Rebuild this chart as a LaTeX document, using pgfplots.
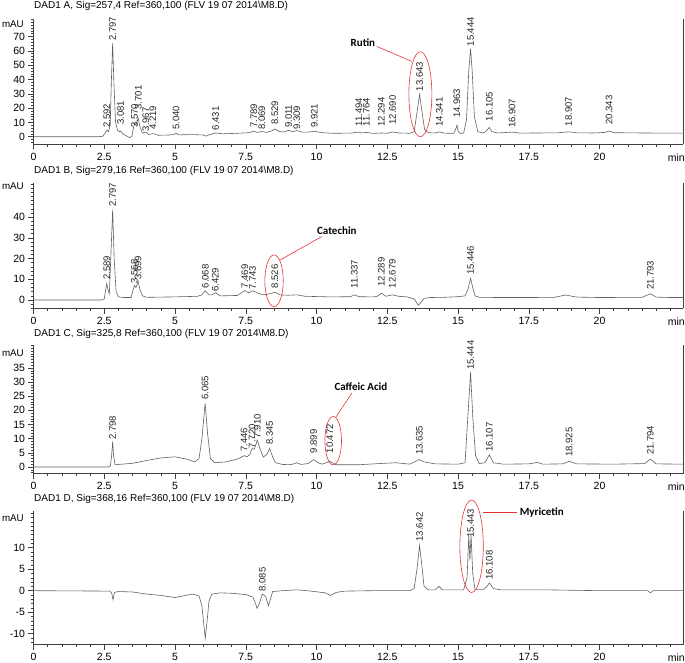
\documentclass[border=0pt]{standalone}
\usepackage{fontspec}
\setmainfont{Liberation Sans}
\newfontfamily\calfont{Carlito}
\usepackage{pgfplots}
\pgfplotsset{compat=1.18}
\definecolor{annot}{rgb}{0.9,0.2,0.22}
\tikzset{
  ann/.style={annot, line width=0.6pt},
  annlabel/.style={font={\calfont\bfseries\fontsize{11}{13}\selectfont}},
  maulabel/.style={anchor=east, inner sep=0pt, font=\fontsize{9.8}{11}\selectfont},
}
\pgfplotsset{
  chrom/.style={
    scale only axis, width=649.5pt,
    xmin=0, xmax=22.95,
    axis x line*=bottom, axis y line*=left,
    axis line style={black!75, line width=0.6pt},
    tick align=outside,
    major tick length=5pt, minor tick length=2.5pt,
    every tick/.style={black!75, line width=0.5pt},
    xtick={0,2.5,5,7.5,10,12.5,15,17.5,20},
    xticklabels={0,2.5,5,7.5,10,12.5,15,17.5,20},
    minor xtick={0,0.5,...,22.5},
    ticklabel style={font=\fontsize{10.5}{12}\selectfont},
    /pgf/number format/assume math mode=true,
    clip=false,
  },
  trace/.style={black!62, line width=0.6pt, mark=none},
  plabels/.style={draw=none, mark=none, nodes near coords, point meta=explicit symbolic,
    nodes near coords style={rotate=90, anchor=west, inner sep=0pt, black!85, font=\fontsize{9.5}{11}\selectfont}},
}
\newcommand{\minlabel}{\node[anchor=north east, inner sep=0pt, font=\fontsize{10.5}{12}\selectfont] at (rel axis cs:1,0) [xshift=2pt, yshift=-8.7pt] {min};
  \draw[black!75, line width=0.6pt] (rel axis cs:1,0) -- (rel axis cs:1,1);}
\begin{document}
\begin{tikzpicture}
\useasboundingbox (0pt,0pt) rectangle (685pt,662pt);
% ---------------- Panel A
\begin{axis}[chrom, at={(33.5pt,517.5pt)}, anchor=south west, height=125.5pt,
  ymin=-5.45, ymax=82.3, ytick={0,10,...,70}, minor ytick={-4,-2,...,82}]
\addplot[trace] coordinates {(0,0) (2.3,0) (2.45,0.3) (2.53,2.5) (2.592,4.5) (2.65,3.5) (2.71,8) (2.75,38) (2.797,65.5) (2.84,38) (2.9,10) (2.97,4.5) (3.03,3.5) (3.081,4) (3.15,2) (3.3,0.4) (3.4,-0.7) (3.48,0.5) (3.53,6) (3.57,9.5) (3.62,8) (3.70,13) (3.76,7) (3.85,2.5) (3.967,3.2) (4.07,1.5) (4.219,2.2) (4.4,1) (4.8,1.2) (4.95,1.5) (5.04,2.3) (5.15,1.3) (5.6,1.5) (6.0,1.2) (6.1,0.4) (6.2,1.3) (6.431,2.6) (6.7,2) (7.2,2.4) (7.6,2.8) (7.789,3.8) (7.9,3) (8.069,3.6) (8.25,3) (8.4,4) (8.529,5.3) (8.7,3.6) (8.85,3.3) (9.011,4.5) (9.15,3.5) (9.309,4.3) (9.5,3.2) (9.7,3.2) (9.921,3.8) (10.2,2.8) (10.6,2.4) (11.2,2.5) (11.494,3.2) (11.6,2.6) (11.764,3) (12.0,2.3) (12.294,2.6) (12.5,2.4) (12.69,3.3) (12.9,2.6) (13.3,2.4) (13.45,3.5) (13.55,17) (13.643,29.5) (13.73,17) (13.82,5) (13.95,2.8) (14.2,2.6) (14.341,3.4) (14.5,2.5) (14.85,2.3) (14.93,6) (14.963,8) (15.0,4) (15.08,2.3) (15.2,2.5) (15.3,12) (15.38,46) (15.444,61.5) (15.5,46) (15.58,14) (15.7,3.5) (15.9,2.5) (16.0,4) (16.105,6.5) (16.2,3.5) (16.4,2.6) (16.907,3.2) (17.2,2.5) (17.8,2.6) (18.5,2.7) (18.907,3.4) (19.2,2.7) (19.8,2.6) (20.2,3) (20.343,4) (20.5,2.8) (21.5,2.6) (22.3,2.5) (22.95,2.5)};
\addplot[plabels] table[meta=lab] {
x y lab
2.592 6 2.592
2.797 67 2.797
3.081 8.4 3.081
3.570 6 3.570
3.701 18.9 3.701
3.967 3.7 3.967
4.219 4.9 4.219
5.040 4.9 5.040
6.431 4.4 6.431
7.789 6 7.789
8.069 4.9 8.069
8.529 8.4 8.529
9.011 6 9.011
9.309 4.9 9.309
9.921 6 9.921
11.494 7.2 11.494
11.764 7 11.764
12.294 7 12.294
12.690 8.4 12.690
13.643 31.7 13.643
14.341 7 14.341
14.963 13 14.963
15.444 63.1 15.444
16.105 10.7 16.105
16.907 6 16.907
18.907 7.2 18.907
20.343 8.4 20.343
};
\draw[ann] (axis cs:13.67,29.7) ellipse [x radius=11.5pt, y radius=42.5pt];
\draw[ann] (axis cs:12.13,63.1) -- (axis cs:13.36,52.7);
\node[annlabel] at (axis cs:11.64,65.9) {Rutin};
\node[maulabel] at (rel axis cs:0,1) [xshift=-9.5pt, yshift=-5pt] {mAU};
\node[anchor=base west, inner sep=0pt, font=\fontsize{10}{12}\selectfont] at (rel axis cs:0,1) [xshift=0.5pt, yshift=10.4pt] {DAD1 A, Sig=257,4 Ref=360,100 (FLV 19 07 2014\textbackslash M8.D)};
\minlabel
\end{axis}
% ---------------- Panel B
\begin{axis}[chrom, at={(33.5pt,353.5pt)}, anchor=south west, height=125.5pt,
  ymin=-4.1, ymax=56.5, ytick={0,10,...,40}, minor ytick={-4,-2,...,56}]
\addplot[trace] coordinates {(0,0) (2.4,0) (2.5,0.5) (2.55,5) (2.589,8) (2.63,5) (2.68,3) (2.73,20) (2.797,43.5) (2.85,20) (2.92,4) (3.0,1.5) (3.2,1.2) (3.45,1.2) (3.52,5) (3.568,7) (3.62,6) (3.699,9) (3.76,5) (3.85,2) (4.0,1.3) (5.0,1.5) (5.8,1.8) (5.95,2.5) (6.068,4.5) (6.2,2.5) (6.3,2.5) (6.429,3.5) (6.6,2) (7.2,2.2) (7.35,3.5) (7.469,4.5) (7.6,3.5) (7.743,4.5) (7.9,3.5) (8.1,2.5) (8.35,3) (8.526,3.8) (8.7,2.5) (9.0,2.3) (9.3,2.5) (9.6,1.8) (10.5,1.5) (11.2,1.6) (11.337,2.5) (11.5,1.6) (12.0,1.5) (12.15,1.8) (12.289,3.3) (12.45,1.8) (12.679,2.5) (12.9,1.8) (13.2,1.5) (13.45,0.5) (13.6,-2.5) (13.7,-1) (13.8,0.8) (14.0,1.2) (14.5,1.3) (15.0,1.6) (15.25,2) (15.35,5) (15.446,10.5) (15.52,6) (15.6,2) (15.75,1.3) (16.5,1.2) (17.5,1.2) (18.4,1.3) (18.8,2.4) (19.2,1.4) (20,1.2) (21.5,1.3) (21.793,3) (22.0,1.4) (22.5,1.2) (22.95,1.2)};
\addplot[plabels] table[meta=lab] {
x y lab
2.589 9.7 2.589
2.797 45 2.797
3.568 8 3.568
3.699 9.7 3.699
6.068 5.6 6.068
6.429 4 6.429
7.469 5.6 7.469
7.743 4.8 7.743
8.526 5.6 8.526
11.337 5.6 11.337
12.289 6.4 12.289
12.679 5.6 12.679
15.446 12 15.446
21.793 4.8 21.793
};
\draw[ann] (axis cs:8.5,9.3) ellipse [x radius=9.2pt, y radius=25.8pt];
\draw[ann] (axis cs:8.71,19.3) -- (axis cs:10.18,30.6);
\node[annlabel] at (axis cs:10.72,33.3) {Catechin};
\node[maulabel] at (rel axis cs:0,1) [xshift=-9.5pt, yshift=-3pt] {mAU};
\node[anchor=base west, inner sep=0pt, font=\fontsize{10}{12}\selectfont] at (rel axis cs:0,1) [xshift=0.5pt, yshift=9.4pt] {DAD1 B, Sig=279,16 Ref=360,100 (FLV 19 07 2014\textbackslash M8.D)};
\minlabel
\end{axis}
% ---------------- Panel C
\begin{axis}[chrom, at={(33.5pt,188.5pt)}, anchor=south west, height=128.5pt,
  ymin=-2.3, ymax=43.1, ytick={0,5,...,35}, minor ytick={-2,-1,...,43}]
\addplot[trace] coordinates {(0,0) (2.65,0) (2.72,0.5) (2.76,4) (2.798,9) (2.83,4) (2.88,0.8) (3.0,0.9) (3.5,1.3) (4.0,2.3) (4.5,3.2) (5.0,3.6) (5.4,2.8) (5.7,1.8) (5.85,3) (5.95,10) (6.065,22.5) (6.15,12) (6.25,3) (6.4,1.5) (6.8,1.8) (7.2,2.8) (7.35,3.5) (7.446,4) (7.55,3.6) (7.65,4.5) (7.72,6.5) (7.8,6.3) (7.91,9.5) (8.0,6.5) (8.12,3.5) (8.25,4.5) (8.345,6.6) (8.45,3.5) (8.55,1.5) (8.8,0.9) (9.1,0.8) (9.3,1.5) (9.45,0.9) (9.7,1.2) (9.899,2.6) (10.05,1.5) (10.2,1.0) (10.472,2.0) (10.7,0.8) (11.5,0.8) (12.2,1.2) (12.8,1.5) (13.3,1) (13.5,2) (13.635,2.6) (13.8,1.8) (14.2,1.1) (15.0,1.0) (15.25,1.5) (15.33,15) (15.444,33.5) (15.52,18) (15.62,4) (15.75,1.2) (15.95,1.5) (16.107,4.3) (16.25,1.5) (16.6,1.0) (17.5,1.1) (17.8,1.6) (18.0,1.0) (18.7,1.1) (18.925,2.0) (19.2,1.1) (20.5,1.0) (21.6,1.2) (21.794,2.8) (22.0,1.1) (22.95,1.0)};
\addplot[plabels] table[meta=lab] {
x y lab
2.798 9.5 2.798
6.065 23.7 6.065
7.446 5.4 7.446
7.720 6.6 7.720
7.910 10.1 7.910
8.345 7.8 8.345
9.899 4.8 9.899
10.472 4.8 10.472
13.635 4.2 13.635
15.444 34.3 15.444
16.107 5.4 16.107
18.925 3.6 18.925
21.794 4.2 21.794
};
\draw[ann] (axis cs:10.59,9.3) ellipse [x radius=8.3pt, y radius=24.2pt];
\draw[ann] (axis cs:10.69,17.7) -- (axis cs:11.25,26.1);
\node[annlabel] at (axis cs:11.57,28.4) {Caffeic Acid};
\node[maulabel] at (rel axis cs:0,1) [xshift=-9.5pt, yshift=-8pt] {mAU};
\node[anchor=base west, inner sep=0pt, font=\fontsize{10}{12}\selectfont] at (rel axis cs:0,1) [xshift=0.5pt, yshift=8.1pt] {DAD1 C, Sig=325,8 Ref=360,100 (FLV 19 07 2014\textbackslash M8.D)};
\minlabel
\end{axis}
% ---------------- Panel D
\begin{axis}[chrom, at={(33.5pt,17.5pt)}, anchor=south west, height=133.5pt,
  ymin=-12.5, ymax=18.5, ytick={-10,-5,0,5,10}, yticklabels={-10,-5,0,5,10}, minor ytick={-12,-11,...,18}]
\addplot[trace] coordinates {(0,0) (2.7,-0.1) (2.76,-0.5) (2.81,-2.1) (2.86,-0.4) (3.0,-0.2) (3.5,-0.3) (4.0,-0.8) (4.5,-1.1) (5.0,-1.6) (5.3,-1.2) (5.6,-0.8) (5.85,-1.2) (5.95,-3.5) (6.02,-8) (6.07,-11) (6.12,-8) (6.2,-2.5) (6.3,-0.8) (6.6,-0.5) (7.0,-0.6) (7.5,-0.9) (7.75,-1.5) (7.82,-2.5) (7.9,-4.1) (7.98,-3.0) (8.085,-0.8) (8.2,-1.3) (8.3,-3.5) (8.37,-2.0) (8.45,-0.2) (8.8,0) (9.3,0.2) (9.8,-0.1) (10.3,-0.5) (10.5,-1.1) (10.7,-0.4) (11.0,-0.1) (12,0) (13.3,0) (13.45,0.5) (13.55,5) (13.642,10.5) (13.72,6) (13.8,1) (13.95,0.2) (14.2,0.2) (14.33,1.0) (14.45,0.2) (15.2,0.2) (15.32,3) (15.38,12.8) (15.42,7) (15.46,13) (15.52,4) (15.6,0.3) (15.9,0.3) (16.0,0.8) (16.108,1.8) (16.25,0.5) (16.5,0.2) (18,0.2) (20,0) (21.7,0) (21.8,-0.5) (21.9,0) (22.95,0)};
\addplot[plabels] table[meta=lab] {
x y lab
8.085 -0.2 8.085
13.642 11.4 13.642
15.443 12.2 15.443
16.108 2.5 16.108
};
\draw[ann] (axis cs:15.48,10.3) ellipse [x radius=11.7pt, y radius=46.2pt];
\draw[ann] (axis cs:15.88,18.1) -- (axis cs:17.07,18.1);
\node[annlabel] at (axis cs:17.96,18.1) {Myricetin};
\node[maulabel] at (rel axis cs:0,1) [xshift=-9.5pt, yshift=-7pt] {mAU};
\node[anchor=base west, inner sep=0pt, font=\fontsize{10}{12}\selectfont] at (rel axis cs:0,1) [xshift=0.5pt, yshift=10pt] {DAD1 D, Sig=368,16 Ref=360,100 (FLV 19 07 2014\textbackslash M8.D)};
\minlabel
\end{axis}
\end{tikzpicture}
\end{document}
